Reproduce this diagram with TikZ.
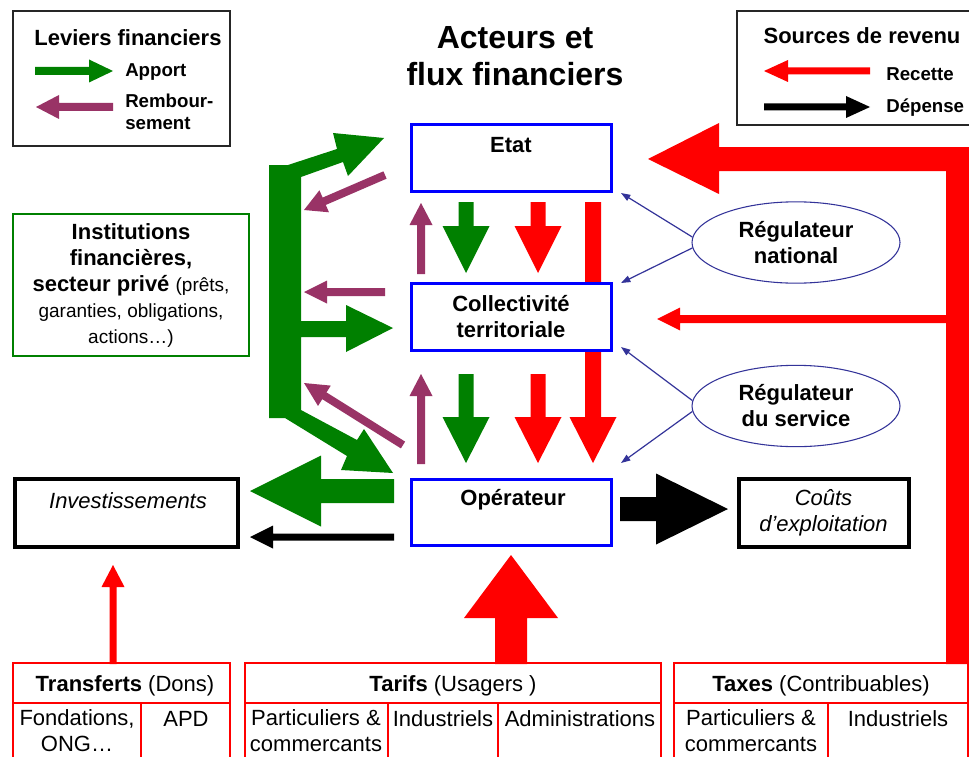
\documentclass[tikz,border=0pt]{standalone}
\usepackage{fontspec}
\setmainfont{Liberation Sans}
\usetikzlibrary{shapes.geometric,arrows.meta,calc}
\definecolor{fgreen}{RGB}{0,128,0}
\definecolor{fpurple}{RGB}{153,51,102}
\definecolor{fred}{RGB}{255,0,0}
\definecolor{fblue}{RGB}{0,0,255}
\definecolor{regblue}{RGB}{51,51,153}
\newcommand\bigsz{\fontsize{16.5}{19.5}\selectfont}
\newcommand\smallsz{\fontsize{14.25}{19.5}\selectfont}
\newcommand\legsz{\fontsize{14}{16.5}\selectfont}
% block arrow: colour, x1,y1 (tail), x2,y2 (tip), shaft width, head width, head length (all in px)
\newcommand\barrow[8]{%
  \pgfmathsetmacro\bdx{(#4)-(#2)}%
  \pgfmathsetmacro\bdy{(#5)-(#3)}%
  \pgfmathsetmacro\bang{atan2(-\bdy,\bdx)}%
  \pgfmathsetmacro\blen{veclen(\bdx,\bdy)}%
  \pgfmathsetmacro\bbase{\blen-(#8)}%
  \fill[#1,shift={(#2,#3)},rotate=\bang] (0,-#6/2) -- (\bbase,-#6/2) -- (\bbase,-#7/2) -- (\blen,0) -- (\bbase,#7/2) -- (\bbase,#6/2) -- (0,#6/2) -- cycle;}
\begin{document}
\begin{tikzpicture}[x=0.75pt,y=-0.75pt,
  txt/.style={inner sep=0pt,align=center,font=\bigsz},
  btxt/.style={inner sep=0pt,align=center,font=\bigsz\bfseries},
  itxt/.style={inner sep=0pt,align=center,font=\bigsz\itshape},
  ltxt/.style={inner sep=0pt,align=left,font=\legsz\bfseries},
  bluebox/.style={draw=fblue,line width=2.25pt,fill=white,minimum width=150pt,minimum height=50pt,inner sep=0pt},
  blackbox/.style={draw=black,line width=3pt,fill=white,minimum height=51pt,inner sep=0pt},
  legbox/.style={draw=black!85,line width=1.1pt},
  tablebox/.style={draw=fred,line width=1.5pt},
  regell/.style={ellipse,draw=regblue,line width=0.8pt,fill=white,minimum width=156pt,minimum height=61pt,inner sep=0pt,align=center,font=\bigsz\bfseries},
  regarrow/.style={draw=regblue,line width=0.9pt,-{Triangle[length=7pt,width=5pt]}}]
\useasboundingbox (0,0) rectangle (969,756);
\begin{scope}
\clip (0,0) rectangle (969,756);
\fill[white] (0,0) rectangle (969,756);

% ---- left legend
\draw[legbox] (13,11) rectangle (230,146);
\node[btxt] (levtitle) at (128,38) {Leviers financiers};
\barrow{fgreen}{35}{71}{113}{71}{8}{23}{24}
\barrow{fpurple}{113}{107}{36}{107}{8}{24}{23}
\node[ltxt,anchor=west] (apport) at (125,72) {Apport};
\node[ltxt,anchor=west] (rembours) at (125,112) {Rembour-\\sement};

% ---- right legend
\draw[legbox] (975,11) -- (737,11) -- (737,125) -- (975,125);
\node[btxt] (srctitle) at (862,36) {Sources de revenu};
\barrow{fred}{870}{71}{764}{71}{7}{22}{24}
\barrow{black}{764}{107}{870}{107}{7}{22}{24}
\node[ltxt,anchor=west] (recette) at (886,74) {Recette};
\node[ltxt,anchor=west] (depense) at (886,108) {Dépense};

% ---- title
\node[inner sep=0pt,align=center,font=\fontsize{24}{27.75}\selectfont\bfseries] (title) at (515,56) {Acteurs et\\flux financiers};

% ---- green structure on the left
\fill[fgreen] (269,165) -- (288,165) -- (337,149) -- (333,133) -- (384,138) -- (348,176) -- (343,162) -- (301,177)
  -- (301,321) -- (346,321) -- (346,305) -- (393,328) -- (346,352) -- (346,337) -- (301,337)
  -- (301,410) -- (357,440) -- (364,429) -- (393,473) -- (341,470) -- (347,456) -- (285,418) -- (269,418) -- cycle;

% ---- purple arrows towards the institutions
\barrow{fpurple}{385}{175}{304}{210}{8}{24}{22}
\barrow{fpurple}{385}{292}{304}{292}{8}{23}{23}
\barrow{fpurple}{403}{445}{304}{383}{8}{24}{24}

% ---- big red return from the taxes
\fill[fred] (719,147) -- (975,147) -- (975,664) -- (946,664) -- (946,171) -- (719,171) -- (719,194) -- (648,159) -- (719,123) -- cycle;
\barrow{fred}{946}{319}{657}{319}{8}{23}{23}

% ---- vertical flows between the actors
\barrow{fred}{593}{202}{593}{463}{16}{47}{46}
\barrow{fpurple}{421}{274}{421}{203}{8}{23}{22}
\barrow{fgreen}{466}{202}{466}{273}{15}{47}{47}
\barrow{fred}{538}{202}{538}{273}{15}{47}{47}
\barrow{fpurple}{421}{464}{421}{374}{8}{23}{22}
\barrow{fgreen}{466}{374}{466}{463}{15}{47}{46}
\barrow{fred}{538}{374}{538}{463}{15}{47}{46}

% ---- flows around the operator
\barrow{fgreen}{394}{491}{250}{491}{24}{71}{71}
\barrow{black}{394}{537}{250}{537}{7}{23}{23}
\barrow{black}{620}{509}{728}{509}{24}{71}{72}
\barrow{fred}{511}{664}{511}{555}{32}{94}{63}
\barrow{fred}{113}{664}{113}{565}{7}{23}{22}

% ---- actors
\node[bluebox] (etat) at (511,158) {};
\node[btxt] (etatlbl) at (511,145) {Etat};
\node[bluebox,align=center,font=\bigsz\bfseries] (coll) at (511,317) {Collectivité\\territoriale};
\node[bluebox] (oper) at (511,512.5) {};
\node[btxt] (operlbl) at (513,500) {Opérateur};

\node[blackbox,minimum width=167pt] (invest) at (126.5,512.5) {};
\node[itxt] (investlbl) at (128,501) {Investissements};
\node[blackbox,minimum width=127.5pt,align=center,font=\bigsz\itshape] (couts) at (823.5,512.5) {Coûts\\d’exploitation};

\node[draw=fgreen,line width=2pt,minimum width=177pt,minimum height=106.5pt,inner sep=0pt,align=center,font=\bigsz\bfseries] (instit) at (131,285)
  {Institutions\\financières,\\secteur privé {\mdseries\smallsz (prêts,}\\{\mdseries\smallsz garanties, obligations,}\\{\mdseries\smallsz actions…)}};

% ---- regulators
\node[regell] (regn) at (796,242.5) {Régulateur\\national};
\node[regell] (regs) at (796,406) {Régulateur\\du service};
\coordinate (ntipa) at (621,193);
\coordinate (ntipb) at (621,283);
\coordinate (stipa) at (621,347);
\coordinate (stipb) at (621,463);
\draw[regarrow] (regn.177) -- (ntipa);
\draw[regarrow] (regn.183) -- (ntipb);
\draw[regarrow] (regs.177) -- (stipa);
\draw[regarrow] (regs.183) -- (stipb);

% ---- revenue tables
\draw[tablebox] (13,663) rectangle (230,790);
\draw[tablebox] (13,703) -- (230,703);
\draw[tablebox] (141,703) -- (141,790);
\draw[tablebox] (245,663) rectangle (661,790);
\draw[tablebox] (245,703) -- (661,703);
\draw[tablebox] (388,703) -- (388,790);
\draw[tablebox] (498,703) -- (498,790);
\draw[tablebox] (674,663) rectangle (968,790);
\draw[tablebox] (674,703) -- (968,703);
\draw[tablebox] (828,703) -- (828,790);

\node[txt] (transf) at (125,686) {\textbf{Transferts} (Dons)};
\node[txt] (tarifs) at (453,686) {\textbf{Tarifs} (Usagers )};
\node[txt] (taxes) at (821,686) {\textbf{Taxes} (Contribuables)};
\node[txt] (fond) at (77,731) {Fondations,\\ONG…};
\node[txt] (apd) at (186,719) {APD};
\node[txt] (partA) at (316,731) {Particuliers \&\\commercants};
\node[txt] (indA) at (443,719) {Industriels};
\node[txt] (admin) at (580,719) {Administrations};
\node[txt] (partB) at (751,731) {Particuliers \&\\commercants};
\node[txt] (indB) at (898,719) {Industriels};
\end{scope}
\end{tikzpicture}
\end{document}
